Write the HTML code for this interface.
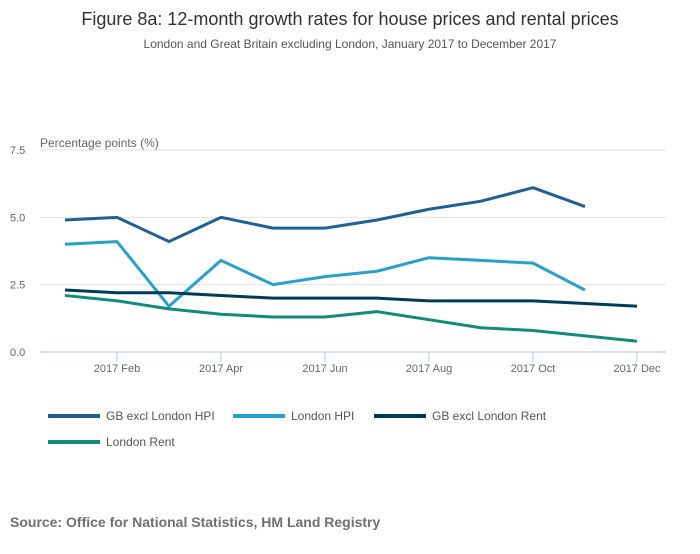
<!DOCTYPE html>
<html><head><meta charset="utf-8"><style>
body{margin:0;width:700px;height:549px;background:#fff;font-family:"Liberation Sans",sans-serif;overflow:hidden}
</style></head><body>
<svg width="700" height="549">
<text x="350" y="25" text-anchor="middle" font-size="18" fill="#323132">Figure 8a: 12-month growth rates for house prices and rental prices</text>
<text x="350" y="48" text-anchor="middle" font-size="12" fill="#555">London and Great Britain excluding London, January 2017 to December 2017</text>
<text x="40" y="147" font-size="12" fill="#666">Percentage points (%)</text>
<g id="grid"></g><g id="series"></g><g id="legend"></g>
<text x="10" y="527" font-size="14" font-weight="bold" fill="#707071">Source: Office for National Statistics, HM Land Registry</text>
</svg>
<script>
const months=["Jan","Feb","Mar","Apr","May","Jun","Jul","Aug","Sep","Oct","Nov","Dec"];
const yTicks=[0,2.5,5,7.5];
const seriesNames=["GB excl London HPI","London HPI","GB excl London Rent","London Rent"];
const gbHpi=[4.9,5.0,4.1,5.0,4.6,4.6,4.9,5.3,5.6,6.1,5.4];
const londonHpi=[4.0,4.1,1.7,3.4,2.5,2.8,3.0,3.5,3.4,3.3,2.3];
const gbRent=[2.3,2.2,2.2,2.1,2.0,2.0,2.0,1.9,1.9,1.9,1.8,1.7];
const londonRent=[2.1,1.9,1.6,1.4,1.3,1.3,1.5,1.2,0.9,0.8,0.6,0.4];
const colors=["#206095","#27a0cc","#003c57","#118c7b"];
const NS="http://www.w3.org/2000/svg";
const x=i=>65+i*52, y=v=>352-v*(202/7.5);
function mk(t,a,p){const e=document.createElementNS(NS,t);for(const k in a)e.setAttribute(k,a[k]);p.appendChild(e);return e;}
const grid=document.getElementById('grid');
yTicks.forEach(v=>{
 const l=mk('line',{x1:40,x2:666,y1:y(v),y2:y(v),stroke:v===0?'#b3c6de':'#e2e2e3','stroke-width':1},grid);
 
 
 const t=mk('text',{x:10,y:y(v)+4,'font-size':11,fill:'#666'},grid);t.textContent=v.toFixed(1);
 
 
});
months.forEach((m,i)=>{if(i%2===1){
 const l=mk('line',{x1:x(i),x2:x(i),y1:352,y2:362,stroke:'#b3c6de'},grid);
 
 
 const t=mk('text',{x:x(i),y:372,'font-size':11,fill:'#666','text-anchor':'middle'},grid);t.textContent='2017 '+m;
 
 
}});
const sg=document.getElementById('series');
[gbHpi,londonHpi,gbRent,londonRent].forEach((d,s)=>{
 const p=mk('polyline',{points:d.map((v,i)=>x(i)+','+y(v)).join(' '),fill:'none',stroke:colors[s],'stroke-width':3,'stroke-linejoin':'round'},sg);
 
 
});
const lg=document.getElementById('legend');
const lpos=[[48,416],[233,416],[374,416],[48,442]];
seriesNames.forEach((n,s)=>{
 const [lx,ly]=lpos[s];
 const l=mk('line',{x1:lx,x2:lx+52,y1:ly,y2:ly,stroke:colors[s],'stroke-width':4},lg);
 
 
 const t=mk('text',{x:lx+58,y:ly+4,'font-size':12,fill:'#555'},lg);t.textContent=n;
 
 
});
</script>
</body></html>
